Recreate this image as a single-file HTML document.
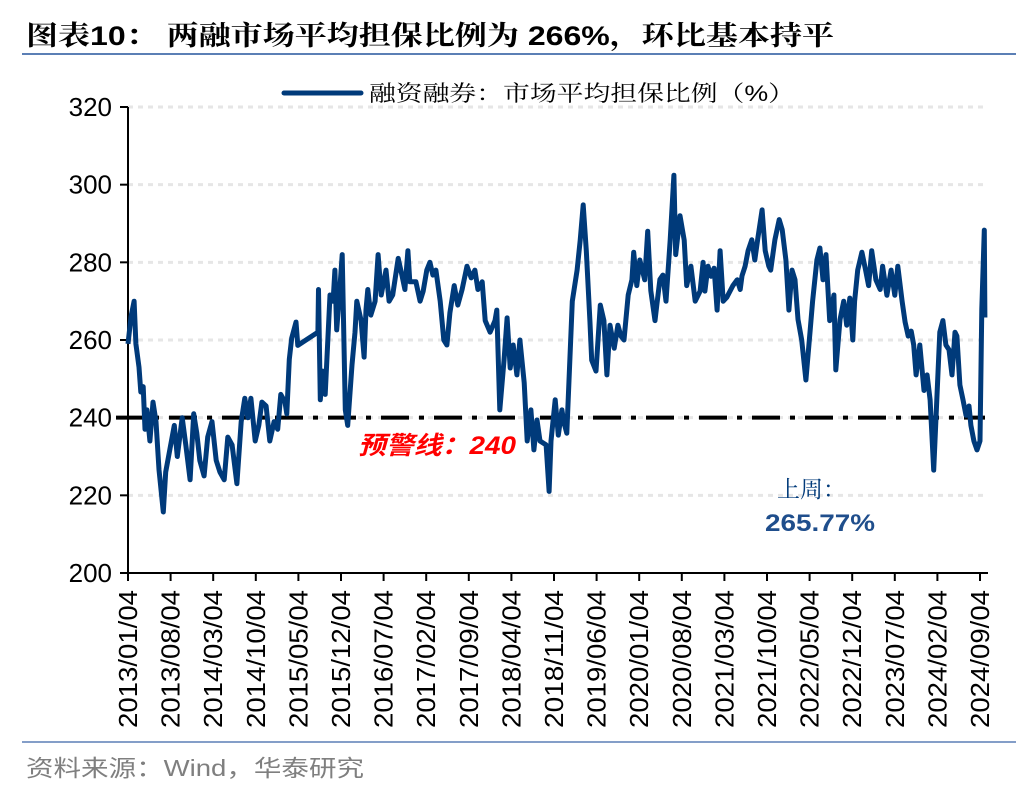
<!DOCTYPE html>
<html><head><meta charset="utf-8"><style>
body{margin:0;background:#fff;width:1036px;height:792px;overflow:hidden}
svg{display:block}
</style></head><body>
<svg id="chart" width="1036" height="792" xmlns="http://www.w3.org/2000/svg">
<text x="26" y="45" textLength="808" lengthAdjust="spacingAndGlyphs" font-family="'Liberation Sans','Noto Serif CJK SC',serif" font-weight="bold" font-size="27" fill="#000">图表10：  两融市场平均担保比例为 266%，环比基本持平</text>
<line x1="22" y1="54" x2="1016" y2="54" stroke="#5b7fb5" stroke-width="2"/>
<g>
<line x1="284" y1="93" x2="361" y2="93" stroke="#003a7a" stroke-width="5" stroke-linecap="round"/>
<text x="369" y="101" textLength="426" lengthAdjust="spacingAndGlyphs" font-family="'Liberation Sans','Noto Serif CJK SC',serif" font-size="22" fill="#000">融资融券：市场平均担保比例（%）</text>
</g>
<g id="grid"></g><g id="yaxis"></g><g id="xaxis"></g>
<line id="warn" x1="116" x2="985" stroke="#000" stroke-width="4" stroke-dasharray="28,10,5,10"/>
<path id="series" fill="none" stroke="#003a7a" stroke-width="5" stroke-linejoin="round"/>
<text x="358" y="454" textLength="158" lengthAdjust="spacingAndGlyphs" font-family="'Liberation Sans','Noto Sans CJK SC',sans-serif" font-style="italic" font-weight="bold" font-size="25" fill="#ff0000">预警线：240</text>
<text x="777" y="497" font-family="'Liberation Serif','Noto Serif CJK SC',serif" font-size="23" fill="#003a7a">上周：</text>
<text x="765" y="531" textLength="110" lengthAdjust="spacingAndGlyphs" font-family="'Liberation Sans',sans-serif" font-weight="bold" font-size="24" fill="#1f4e8c">265.77%</text>
<line x1="22" y1="742" x2="1016" y2="742" stroke="#5b7fb5" stroke-width="1.5"/>
<text x="26" y="776" textLength="338" lengthAdjust="spacingAndGlyphs" font-family="'Liberation Sans','Noto Sans CJK SC',sans-serif" font-size="23" fill="#7f7f7f">资料来源：Wind，华泰研究</text>
</svg>
<script>
const yTicks=[200,220,240,260,280,300,320];
const xTickLabels=["2013/01/04","2013/08/04","2014/03/04","2014/10/04","2015/05/04","2015/12/04","2016/07/04","2017/02/04","2017/09/04","2018/04/04","2018/11/04","2019/06/04","2020/01/04","2020/08/04","2021/03/04","2021/10/04","2022/05/04","2022/12/04","2023/07/04","2024/02/04","2024/09/04"];
const warningLevel=240;
// months since 2013/01/04
const months=[0,0.5,1.0,1.3,1.8,2.1,2.5,2.8,3.1,3.6,4.1,4.6,5.1,5.8,6.2,6.9,7.6,8.1,8.9,9.5,10.2,10.8,11.3,11.8,12.5,13.1,13.8,14.5,15.1,15.8,16.4,17.1,17.9,18.6,19.2,19.7,20.2,20.9,21.5,22.0,22.7,23.3,24.0,24.6,25.1,25.8,26.1,26.5,26.9,27.6,27.9,31.2,31.3,31.6,32.0,32.4,33.2,33.7,34.0,34.3,34.8,35.2,35.7,36.1,36.8,37.3,37.6,38.3,38.8,39.1,39.4,39.9,40.6,41.1,41.6,42.4,42.9,43.5,44.4,45.0,45.5,46.0,46.3,47.3,48.0,48.5,49.1,49.6,50.1,50.6,51.3,51.9,52.4,52.9,53.6,54.2,54.9,55.7,56.4,57.0,57.5,58.2,58.7,59.5,60.3,60.6,61.1,61.8,62.3,62.8,63.3,63.9,64.4,65.1,65.6,66.2,66.7,67.2,67.7,68.7,69.2,69.5,70.2,70.7,71.3,71.6,72.1,73.0,73.8,74.3,74.8,75.3,75.9,76.2,76.9,77.6,78.2,78.7,79.2,79.9,80.5,81.0,81.5,82.2,82.8,83.1,83.6,84.1,84.9,85.4,85.9,86.6,86.9,87.4,87.9,88.4,89.1,89.7,90.0,90.7,91.4,91.8,92.5,93.2,94.0,94.5,94.8,95.3,95.8,96.3,96.8,97.3,97.8,98.4,99.4,100.1,100.6,100.9,101.4,101.9,102.5,103.0,103.5,104.2,104.7,105.3,105.6,106.3,107.0,107.5,108.1,108.6,109.1,109.6,110.1,110.7,111.4,112.1,112.5,113.2,113.7,114.2,114.7,115.3,116.0,116.3,117.0,117.6,118.1,118.6,119.1,119.4,119.9,120.6,121.2,121.7,122.2,122.9,123.6,124.0,124.7,125.4,126.0,126.5,127.2,127.7,128.2,128.7,129.1,129.5,130.1,130.8,131.3,131.8,132.4,132.9,133.4,133.9,134.4,134.9,135.4,135.9,136.2,136.7,137.2,137.7,138.2,138.5,139.0,139.5,140.0,140.3,140.7,140.8];
const ratios=[259,266,270,259,253,246.6,248,237,242,234,244,239,226.6,215.7,226,232,238,230,240,233,224,241,236,229,225,235,239,229,226,224,235,233,223,239,245,240,245,234,238,244,243,234,239,237,246,244,241,255,260.5,264.6,258.6,262,273,244.6,252,246,271.6,270,278,262.6,273,282,242,238,253.6,262,270,265,255.6,267.8,273,266.4,270,282,271.6,278,270,271.6,281,276.7,273,283,275,275,270,272.6,278,280,276.7,278,270,260,258.7,267,274,269,273,279,276,278,273,275,265,262,265,267.7,242,255,265.7,252.8,258.7,251,260,249,234,242,231.7,239.4,234,233,221,234,244.6,235.5,242,239,236,270,278,285.7,294.8,283,265,254.8,252,269,265,251,263.8,257.9,263.8,261,260,271.6,275.5,282.6,274,280.6,275.5,288,272.7,265,269,275.6,276.7,270,285.8,302.4,282,292,285.7,274,279,270,272.6,280,272.6,279,276.4,278.5,267.7,283,270,271,274,275.5,273,276.5,279,283,285.8,280.6,286.3,293.5,283,279,278,285.8,291,288.4,280.6,267.7,278,275.5,265.3,260,249.7,262.6,270,280.6,283.7,275.5,282,265,271.6,252.3,265.2,270,263.8,270.8,260,270,278,282.6,278,274,283,275.5,273,279,271.5,278,271.5,279,270,264.6,261,262.3,258.7,251,258.7,247,251,244.6,226.5,244.6,262,265,258.7,257.5,251,262,261,248.4,244.6,240.6,243,238,234,231.7,234,268,288.3,265.8];
const X0=128,X1=980,Y0=573,Y1=107,TOTAL_MONTHS=140,TICK_STEP=7,YMIN=200,YMAX=320;
const xs=m=>X0+(X1-X0)*m/TOTAL_MONTHS;
const ys=v=>Y0-(Y0-Y1)*(v-YMIN)/(YMAX-YMIN);
const NS="http://www.w3.org/2000/svg";
function mk(tag,attrs,parent){const e=document.createElementNS(NS,tag);for(const k in attrs)e.setAttribute(k,attrs[k]);document.getElementById(parent).appendChild(e);return e;}
yTicks.forEach(v=>{
  if(v>YMIN){const g=mk('line',{x1:X0,x2:985,y1:ys(v),y2:ys(v),stroke:'#e6e6e6','stroke-width':3,'stroke-dasharray':'5,5'},'grid');
  
  }
  const t=mk('line',{x1:120,x2:X0,y1:ys(v),y2:ys(v),stroke:'#000','stroke-width':2},'yaxis');
  
  
  const l=mk('text',{x:112,y:ys(v)+9,'text-anchor':'end','font-family':"'Liberation Sans',sans-serif",'font-size':26,fill:'#000'},'yaxis');
  
  
  l.textContent=v;
});
const ya=mk('line',{x1:X0,x2:X0,y1:Y1,y2:Y0,stroke:'#000','stroke-width':2},'yaxis');


const xa=mk('line',{x1:X0,x2:988,y1:Y0,y2:Y0,stroke:'#000','stroke-width':2},'xaxis');


xTickLabels.forEach((lab,i)=>{
  const x=xs(i*TICK_STEP);
  const t=mk('line',{x1:x,x2:x,y1:Y0,y2:Y0+8,stroke:'#000','stroke-width':2},'xaxis');
  
  
  const l=mk('text',{x:0,y:0,transform:`translate(${x+9},${590}) rotate(-90)`,'text-anchor':'end','font-family':"'Liberation Sans',sans-serif",'font-size':26,fill:'#000',textLength:138,lengthAdjust:'spacingAndGlyphs'},'xaxis');
  
  
  l.textContent=lab;
});
const w=document.getElementById('warn');w.setAttribute('y1',ys(warningLevel));w.setAttribute('y2',ys(warningLevel));
document.getElementById('series').setAttribute('d',months.map((m,i)=>(i?'L':'M')+xs(m).toFixed(1)+','+ys(ratios[i]).toFixed(1)).join(''));
</script>
</body></html>
